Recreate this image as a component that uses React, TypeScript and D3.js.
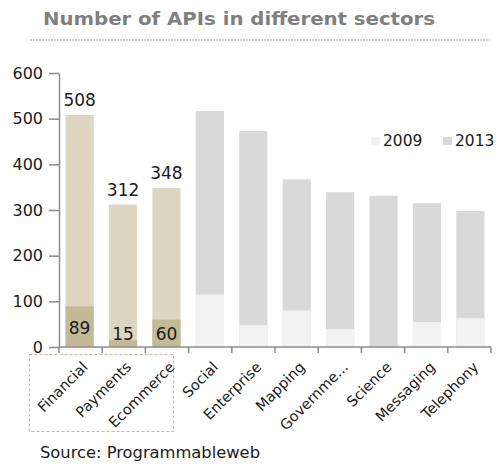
import React, { useEffect, useRef } from "react";
import * as d3 from "d3";

const sectors = ["Financial", "Payments", "Ecommerce", "Social", "Enterprise", "Mapping", "Governme...", "Science", "Messaging", "Telephony"];
const apis2009 = [89, 15, 60, 115, 48, 80, 39, 0, 55, 63];
const apis2013 = [508, 312, 348, 517, 473, 367, 339, 331, 315, 298];
const highlighted = ["Financial", "Payments", "Ecommerce"];
const yTicks = [0, 100, 200, 300, 400, 500, 600];
const years = ["2009", "2013"];

const W = 502;
const H = 464;
const FONT = "'DejaVu Sans', Verdana, sans-serif";

export default function App() {
    const ref = useRef<SVGSVGElement | null>(null);

    useEffect(() => {
        if (!ref.current) return;
        const svg = d3.select(ref.current);
        svg.selectAll("*").remove();

        const x0 = 59, x1 = 491, yTop = 73, yBot = 347;

        const x = d3.scaleBand<string>().domain(sectors).range([x0, x1]).paddingInner(0.35).paddingOuter(0.15);
        const y = d3.scaleLinear().domain([0, 600]).range([yBot, yTop]);

        const col = (s: string, yr: number) => {
            const hi = highlighted.includes(s);
            if (yr === 2013) return hi ? "#ddd6c1" : "#d9d9d9";
            return hi ? "#c4b996" : "#f2f2f2";
        };

        // title
        svg.append("text")
            .attr("x", 43).attr("y", 25)
            .attr("font-family", FONT).attr("font-weight", "bold").attr("font-size", 18)
            .attr("fill", "#7f7f7f")
            .attr("textLength", 392).attr("lengthAdjust", "spacingAndGlyphs")
            .text("Number of APIs in different sectors");
        svg.append("line")
            .attr("x1", 30).attr("x2", 490).attr("y1", 40).attr("y2", 40)
            .attr("stroke", "#9a9a9a").attr("stroke-dasharray", "2,1");

        // bars
        const g = svg.append("g");
        sectors.forEach((s, i) => {
            g.append("rect")
                .attr("x", x(s)!).attr("width", x.bandwidth())
                .attr("y", y(apis2013[i])).attr("height", yBot - y(apis2013[i]))
                .attr("fill", col(s, 2013));
            if (apis2009[i] > 0) {
                g.append("rect")
                    .attr("x", x(s)!).attr("width", x.bandwidth())
                    .attr("y", y(apis2009[i])).attr("height", yBot - y(apis2009[i]))
                    .attr("fill", col(s, 2009));
            }
            if (highlighted.includes(s)) {
                const cx = x(s)! + x.bandwidth() / 2;
                g.append("text")
                    .attr("x", cx).attr("y", y(apis2013[i]) - 9)
                    .attr("text-anchor", "middle")
                    .attr("font-family", FONT).attr("font-size", 17).attr("fill", "#1a1a1a")
                    .text(apis2013[i]);
                const mid = Math.min((y(apis2009[i]) + yBot) / 2, yBot - 14);
                g.append("text")
                    .attr("x", cx).attr("y", mid + 7)
                    .attr("text-anchor", "middle")
                    .attr("font-family", FONT).attr("font-size", 17).attr("fill", "#1a1a1a")
                    .text(apis2009[i]);
            }
        });

        // y axis
        const yAxis = svg.append("g")
            .attr("transform", `translate(${x0},0)`)
            .call(d3.axisLeft(y).tickValues(yTicks).tickSize(10).tickPadding(6).tickSizeOuter(0));
        yAxis.select(".domain").attr("stroke", "#8c8c8c").attr("stroke-width", 1.5);
        yAxis.selectAll(".tick line").attr("stroke", "#8c8c8c").attr("stroke-width", 1.5);
        yAxis.selectAll(".tick text")
            .attr("font-family", FONT).attr("font-size", 16).attr("fill", "#1a1a1a");

        // x axis
        const tickPos = d3.range(sectors.length + 1).map((k) => x0 + (k * (x1 - x0)) / sectors.length);
        const xa = svg.append("g");
        xa.append("line").attr("x1", x0).attr("x2", x1).attr("y1", yBot).attr("y2", yBot)
            .attr("stroke", "#8c8c8c").attr("stroke-width", 1.5);
        tickPos.forEach((p) => {
            xa.append("line").attr("x1", p).attr("x2", p).attr("y1", yBot).attr("y2", yBot + 6)
                .attr("stroke", "#8c8c8c").attr("stroke-width", 1.5);
        });
        sectors.forEach((s) => {
            const cx = x(s)! + x.bandwidth() / 2 + 9;
            xa.append("text")
                .attr("transform", `translate(${cx},${yBot + 21}) rotate(-45)`)
                .attr("text-anchor", "end")
                .attr("font-family", FONT).attr("font-size", 14.5).attr("fill", "#1a1a1a")
                .text(s);
        });

        // highlight box
        svg.append("rect")
            .attr("x", 29.5).attr("y", 354.5).attr("width", 144).attr("height", 77)
            .attr("fill", "none").attr("stroke", "#c8bc94").attr("stroke-dasharray", "3,2");

        // legend
        const lg = svg.append("g");
        const lx = [371, 443];
        years.forEach((yr, k) => {
            lg.append("rect").attr("x", lx[k]).attr("y", 137).attr("width", 9).attr("height", 8)
                .attr("fill", k === 0 ? "#f2f2f2" : "#d9d9d9");
            lg.append("text").attr("x", lx[k] + 12).attr("y", 146)
                .attr("font-family", FONT).attr("font-size", 15.5).attr("fill", "#1a1a1a")
                .text(yr);
        });

        // source
        svg.append("text")
            .attr("x", 40).attr("y", 458)
            .attr("font-family", FONT).attr("font-size", 16).attr("fill", "#1a1a1a")
            .attr("textLength", 220).attr("lengthAdjust", "spacingAndGlyphs")
            .text("Source: Programmableweb");
    }, []);

    return (
        <svg ref={ref} width={W} height={H}
             style={{ position: "absolute", left: 0, top: 0, background: "#fff" }} />
    );
}
